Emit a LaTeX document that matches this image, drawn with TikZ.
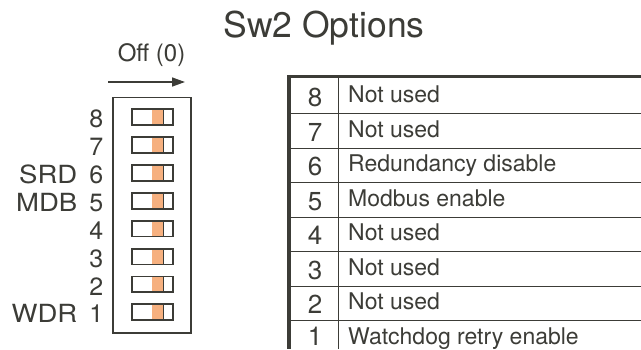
\documentclass[tikz,border=0pt]{standalone}
\usepackage{fontspec}
\usepackage{graphicx}
\setmainfont{TeX Gyre Heros}
\usetikzlibrary{arrows.meta}
\definecolor{inkgray}{HTML}{3C3C37}
\definecolor{sworange}{HTML}{F6B07F}
\newcommand{\widetext}[1]{\scalebox{1.1}[1]{#1}}

\begin{document}
\begin{tikzpicture}[x=1pt,y=-1pt,
        txt/.style={inner sep=0pt,text=inkgray},
        swlabel/.style={txt,anchor=base east,font=\fontsize{25}{25}\selectfont},
        rownum/.style={txt,anchor=base,font=\fontsize{26}{26}\selectfont},
        rowtext/.style={txt,anchor=base west,font=\fontsize{23}{23}\selectfont},
        swbody/.style={draw=inkgray,line width=1.8pt,fill=white},
        rowline/.style={draw=inkgray,line width=1pt}]
    \useasboundingbox (0,0) rectangle (641,349);
    \node[txt,anchor=base,font=\fontsize{35.5}{35.5}\selectfont] (title) at (324,37) {Sw2 Options};

    % switch block
    \node[txt,anchor=base,font=\fontsize{24}{24}\selectfont] (off) at (151.5,61.7) {Off (0)};
    \coordinate (offA) at (108,82);
    \coordinate (offB) at (185,82);
    \draw[inkgray,line width=1.5pt,-{Triangle[length=13pt,width=9pt]}] (offA) -- (offB);
    \draw[draw=inkgray,line width=1.7pt] (113.2,97.5) rectangle (190.8,333.2);
    \foreach \k in {1,...,8} {
        \pgfmathsetmacro\yc{117.2+(8-\k)*27.87}
        \draw[swbody] (131.7,\yc-7.9) rectangle (173,\yc+7.9);
        \fill[sworange] (151.5,\yc-7) rectangle (163.3,\yc+7);
        \draw[inkgray,line width=1.2pt] (163.6,\yc-7) -- (163.6,\yc+7);
        \node[swlabel] (num\k) at (103.5,\yc+10.7) {\k};
    }
    \node[swlabel] (srd) at (77.5,117.2+2*27.87+10.7) {\widetext{SRD}};
    \node[swlabel] (mdb) at (77.5,117.2+3*27.87+10.7) {\widetext{MDB}};
    \node[swlabel] (wdr) at (77.5,117.2+7*27.87+10.7) {\widetext{WDR}};

    % options table
    \draw[rowline] (338,76) -- (338,349);
    \foreach \k/\what in {8/Not used,7/Not used,6/Redundancy disable,5/Modbus enable,
                          4/Not used,3/Not used,2/Not used,1/Watchdog retry enable} {
        \pgfmathsetmacro\yb{113.5+(8-\k)*34.5}
        \ifnum\k>1 \draw[rowline] (289,\yb) -- (641,\yb); \fi
        \node[rownum] (row\k) at (315,{min(\yb-7,345)}) {\k};
        \node[rowtext] (desc\k) at (348,\yb-11) {\what};
    }
    \draw[inkgray,line width=3pt] (287,76.3) -- (641,76.3);
    \draw[inkgray,line width=4pt] (289,74.8) -- (289,349);
\end{tikzpicture}
\end{document}
